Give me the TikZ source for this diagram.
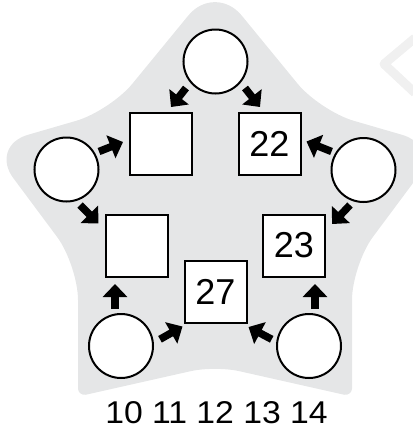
\documentclass[tikz,border=0pt]{standalone}
\usepackage{fontspec}
\setmainfont{Liberation Sans}
\newfontfamily\numfont[FakeStretch=1.07]{Liberation Sans}
\usetikzlibrary{calc,arrows.meta}
\definecolor{stargray}{RGB}{229,230,231}
\definecolor{wmgray}{RGB}{240,240,240}
\newcommand\rcorner[5]{($(#1)!#4pt!(#2)$) .. controls ($(#1)!#5pt!(#2)$) and ($(#1)!#5pt!(#3)$) .. ($(#1)!#4pt!(#3)$)}
\tikzset{
  circ/.style={circle, draw, line width=2pt, fill=white, minimum size=64pt, inner sep=0pt},
  sq/.style={rectangle, draw, line width=2pt, fill=white, minimum size=62pt, inner sep=0pt, font=\fontsize{36}{40}\selectfont},
  arr/.style={line width=7.5pt, -{Triangle[width=24pt,length=13pt]}},
  numrow/.style={font=\numfont\fontsize{31.5}{36}\selectfont, inner sep=0pt, anchor=base}
}
\begin{document}
\begin{tikzpicture}[x=1pt,y=-1pt]
\useasboundingbox (0,0) rectangle (413,432);
\begin{scope}
\clip (0,0) rectangle (413,432);
% watermark chevron
\draw[wmgray, line width=9pt, line join=round] (415,38) -- (384,64) -- (415,93);
% star
\coordinate (T) at (215,-17);
\coordinate (IR) at (320,111);
\coordinate (R) at (440.6,146);
\coordinate (IRB) at (352,265);
\coordinate (BR) at (352,396.5);
\coordinate (IB) at (215,365.7);
\coordinate (BL) at (78,396.5);
\coordinate (ILB) at (78,265);
\coordinate (L) at (-10.6,146);
\coordinate (IL) at (110,111);
\fill[stargray] \rcorner{T}{IL}{IR}{42}{19} -- \rcorner{IR}{T}{R}{35}{16} -- \rcorner{R}{IR}{IRB}{40}{18} -- \rcorner{IRB}{R}{BR}{35}{16} -- \rcorner{BR}{IRB}{IB}{8}{4} -- \rcorner{IB}{BR}{BL}{25}{11} -- \rcorner{BL}{IB}{ILB}{8}{4} -- \rcorner{ILB}{BL}{L}{35}{16} -- \rcorner{L}{ILB}{IL}{40}{18} -- \rcorner{IL}{L}{T}{35}{16} -- cycle;
\end{scope}
% nodes
\node[circ] (tc) at (215.5,61.5) {};
\node[circ] (lc) at (66.5,169.5) {};
\node[circ] (rc) at (363.5,170) {};
\node[circ] (blc) at (121,346) {};
\node[circ] (brc) at (309,346) {};
\node[sq] (tl) at (161,143.5) {};
\node[sq] (tr) at (269.5,143.5) {22};
\node[sq] (ml) at (136.5,245.5) {};
\node[sq] (mr) at (294,245.5) {23};
\node[sq] (bm) at (215.5,292) {27};
% arrows
\draw[arr] ($(tc)+(-29.5,26.5)$) -- ($(tl)+(10,-36.5)$);
\draw[arr] ($(tc)+(29.5,26.5)$) -- ($(tr)+(-9.5,-36.5)$);
\draw[arr] ($(lc)+(32.5,-18)$) -- ($(tl)+(-38,-1.5)$);
\draw[arr] ($(lc)+(13.5,35.5)$) -- ($(ml)+(-38,-22)$);
\draw[arr] ($(rc)+(-32,-18.5)$) -- ($(tr)+(37,-2)$);
\draw[arr] ($(rc)+(-13.5,35)$) -- ($(mr)+(38,-21.5)$);
\draw[arr] ($(blc)+(-6,-37)$) -- ($(ml)+(-21.5,38.5)$);
\draw[arr] ($(blc)+(39,-6.7)$) -- ($(bm)+(-33,34.5)$);
\draw[arr] ($(brc)+(6,-37)$) -- ($(mr)+(21,38.5)$);
\draw[arr] ($(brc)+(-37.3,-6.7)$) -- ($(bm)+(33,35)$);
% numbers
\node[numrow] (nums) at (216.5,423.5) {10 11 12 13 14};
\end{tikzpicture}
\end{document}
